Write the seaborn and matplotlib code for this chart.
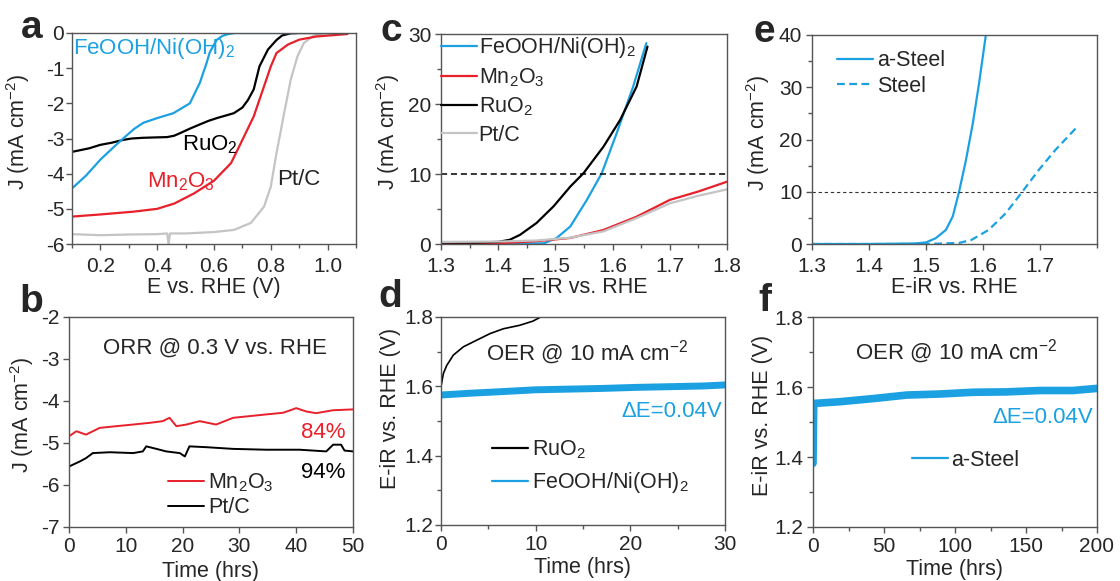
import numpy as np
import pandas as pd
import matplotlib
matplotlib.use("Agg")
import matplotlib.pyplot as plt
from matplotlib.ticker import MultipleLocator
import seaborn as sns

# ---------------- data ----------------
# panel a (ORR LSV)
a_fe_x = [0.10, 0.15, 0.20, 0.25, 0.28, 0.32, 0.352, 0.40, 0.457, 0.515, 0.55, 0.574, 0.585, 0.609, 0.63, 0.65, 0.675, 0.70, 0.80, 0.90, 1.00, 1.07]
a_fe_y = [-4.42, -4.05, -3.60, -3.22, -3.00, -2.72, -2.55, -2.42, -2.28, -2.00, -1.42, -0.85, -0.55, -0.20, -0.08, -0.03, 0.0, 0.0, 0.0, 0.0, 0.0, 0.0]
a_ru_x = [0.10, 0.13, 0.16, 0.20, 0.24, 0.28, 0.31, 0.35, 0.39, 0.435, 0.46, 0.48, 0.515, 0.55, 0.58, 0.61, 0.64, 0.67, 0.70, 0.72, 0.74, 0.76, 0.79, 0.82, 0.84, 0.87, 0.90, 1.00, 1.07]
a_ru_y = [-3.38, -3.33, -3.28, -3.18, -3.12, -3.04, -3.00, -2.98, -2.97, -2.96, -2.92, -2.85, -2.72, -2.60, -2.50, -2.42, -2.35, -2.28, -2.12, -1.90, -1.60, -0.95, -0.47, -0.20, -0.07, -0.01, 0.0, 0.0, 0.0]
a_mn_x = [0.10, 0.20, 0.317, 0.40, 0.46, 0.53, 0.60, 0.66, 0.70, 0.74, 0.776, 0.80, 0.82, 0.86, 0.90, 0.96, 1.07]
a_mn_y = [-5.22, -5.16, -5.08, -5.00, -4.85, -4.56, -4.20, -3.70, -3.04, -2.37, -1.52, -0.95, -0.57, -0.33, -0.19, -0.10, -0.03]
a_pt_x = [0.10, 0.20, 0.30, 0.40, 0.435, 0.44, 0.445, 0.50, 0.60, 0.67, 0.73, 0.776, 0.80, 0.82, 0.847, 0.87, 0.894, 0.917, 0.95, 0.988, 1.07]
a_pt_y = [-5.72, -5.75, -5.73, -5.72, -5.70, -6.00, -5.70, -5.70, -5.66, -5.60, -5.40, -4.94, -4.37, -3.42, -2.28, -1.33, -0.66, -0.28, -0.08, 0.0, 0.0]

# panel b (ORR stability)
b_mn_t = [0, 1.3, 3, 5.4, 8.3, 11.3, 14.2, 16.5, 17.7, 18.9, 20.7, 23, 25.9, 28.9, 31.8, 34.7, 37.7, 39.4, 40, 41.8, 43.5, 46.5, 50]
b_mn_j = [-4.84, -4.72, -4.80, -4.64, -4.60, -4.56, -4.52, -4.48, -4.40, -4.60, -4.56, -4.48, -4.56, -4.40, -4.36, -4.32, -4.28, -4.20, -4.17, -4.25, -4.29, -4.22, -4.20]
b_pt_t = [0, 1.9, 3, 4.2, 7.2, 11.3, 13, 13.6, 15.4, 17.1, 19.5, 20.4, 21.2, 24.2, 28.9, 34.7, 40.6, 45.3, 46.5, 47.9, 48.5, 50]
b_pt_j = [-5.56, -5.44, -5.36, -5.24, -5.22, -5.24, -5.20, -5.08, -5.14, -5.20, -5.24, -5.32, -5.08, -5.10, -5.14, -5.16, -5.16, -5.20, -5.04, -5.04, -5.18, -5.20]

# panel c (OER LSV)
c_ru_x = [1.30, 1.36, 1.40, 1.42, 1.438, 1.467, 1.497, 1.526, 1.549, 1.584, 1.613, 1.642, 1.661]
c_ru_y = [0.2, 0.2, 0.3, 0.6, 1.3, 3.0, 5.4, 8.2, 10.1, 13.9, 17.7, 22.5, 28.2]
c_fe_x = [1.30, 1.40, 1.48, 1.502, 1.526, 1.555, 1.581, 1.607, 1.636, 1.659]
c_fe_y = [0.0, 0.0, 0.1, 0.85, 2.5, 6.3, 10.1, 15.8, 22.5, 28.7]
c_mn_x = [1.30, 1.40, 1.467, 1.526, 1.584, 1.642, 1.70, 1.75, 1.80]
c_mn_y = [0.0, 0.1, 0.4, 0.86, 2.0, 3.9, 6.3, 7.5, 8.9]
c_pt_x = [1.30, 1.40, 1.467, 1.526, 1.584, 1.642, 1.70, 1.75, 1.80]
c_pt_y = [0.3, 0.35, 0.5, 0.9, 1.8, 3.7, 5.8, 6.9, 7.8]

# panel d (OER stability)
d_ru_t = [0.0, 0.25, 0.6, 1.3, 2.36, 3.76, 5.17, 6.58, 8.3, 9.7, 10.4]
d_ru_e = [1.599, 1.637, 1.660, 1.690, 1.714, 1.733, 1.752, 1.766, 1.776, 1.788, 1.798]
d_fe_t = [0, 3, 6.6, 10, 13.6, 17.1, 20.6, 24.2, 27.7, 30]
d_fe_e = [1.575, 1.580, 1.585, 1.590, 1.592, 1.594, 1.597, 1.599, 1.601, 1.604]

# panel e (steel LSV)
e_as_x = [1.30, 1.40, 1.48, 1.50, 1.517, 1.535, 1.547, 1.558, 1.570, 1.582, 1.593, 1.605]
e_as_y = [0.0, 0.0, 0.1, 0.3, 1.1, 2.7, 5.3, 10.0, 16.0, 23.0, 30.7, 40.0]
e_st_x = [1.30, 1.40, 1.50, 1.558, 1.58, 1.61, 1.64, 1.669, 1.698, 1.727, 1.765]
e_st_y = [0.0, 0.0, 0.0, 0.2, 0.8, 2.7, 5.9, 10.0, 14.2, 18.0, 22.4]

# panel f (steel stability)
f_t = [0, 0.5, 19, 42.6, 66, 89.5, 113, 136, 160, 183, 200]
f_e = [1.382, 1.553, 1.558, 1.567, 1.577, 1.580, 1.585, 1.586, 1.590, 1.590, 1.596]

# labels
lab_fe = "FeOOH/Ni(OH)$_2$"
lab_mn = "Mn$_2$O$_3$"
lab_ru = "RuO$_2$"
lab_pt = "Pt/C"

# ---------------- style ----------------
sns.set_theme(style="ticks")
plt.rcParams["font.family"] = ["Liberation Sans", "DejaVu Sans"]
plt.rcParams["mathtext.fontset"] = "custom"
plt.rcParams["mathtext.rm"] = "Liberation Sans"
plt.rcParams["mathtext.it"] = "Liberation Sans:italic"
plt.rcParams["mathtext.default"] = "regular"

BLUE = "#1BA1E2"
RED = "#E8202A"
BLACK = "#000000"
GRAY = "#C4C4C4"
SPINE = "#555555"
FS_TICK = 15
FS_LAB = 15.5
FS_TXT = 16

fig = plt.figure(figsize=(11.2, 5.81), dpi=100)
W, H = 1120, 581

def make_ax(l, r, t, b):
    return fig.add_axes([l / W, 1 - b / H, (r - l) / W, (b - t) / H])

ax_a = make_ax(72, 356, 33, 244)
ax_c = make_ax(441, 727, 34, 244)
ax_e = make_ax(812, 1097, 35, 244)
ax_b = make_ax(69, 353, 317, 527)
ax_d = make_ax(441, 725, 317, 525)
ax_f = make_ax(813, 1097, 317, 527)

def style(ax, ypad=3, xl=(-0.15), yl=(-0.14, 0.53), xpad=4.0):
    for s in ax.spines.values():
        s.set_color(SPINE)
        s.set_linewidth(1.0)
    ax.tick_params(which="major", direction="out", length=4, width=1, color=SPINE,
                   labelsize=FS_TICK)
    ax.tick_params(which="minor", direction="out", length=3, width=1, color=SPINE)
    ax.tick_params(axis="x", which="major", pad=xpad)
    ax.tick_params(axis="y", which="major", pad=ypad)
    ax.xaxis.set_label_coords(0.5, xl)
    ax.yaxis.set_label_coords(yl[0], yl[1])

def line(ax, x, y, color, lw=1.6, label=None, ls="-"):
    df = pd.DataFrame({"x": x, "y": y})
    sns.lineplot(data=df, x="x", y="y", ax=ax, color=color, lw=lw, label=label,
                 sort=False, estimator=None, linestyle=ls)

leg_kw = dict(frameon=False, fontsize=FS_LAB, handlelength=1.65, borderpad=0, borderaxespad=0)

# ---- a ----
ax = ax_a
line(ax, a_pt_x, a_pt_y, GRAY)
line(ax, a_mn_x, a_mn_y, RED)
line(ax, a_ru_x, a_ru_y, BLACK)
line(ax, a_fe_x, a_fe_y, BLUE)
ax.set_xlim(0.1, 1.1)
ax.set_ylim(-6, 0)
ax.set_xticks([0.2, 0.4, 0.6, 0.8, 1.0])
ax.xaxis.set_minor_locator(MultipleLocator(0.1))
ax.set_yticks([0, -1, -2, -3, -4, -5, -6])
ax.set_yticklabels(["0", "-1", "-2", "-3", "-4", "-5", "-6"])
ax.set_xlabel("E vs. RHE (V)", fontsize=FS_LAB)
ax.set_ylabel("J (mA cm$^{-2}$)", fontsize=FS_LAB)
ax.text(0.104, -0.43, lab_fe, color=BLUE, fontsize=FS_TXT, va="center", ha="left")
ax.text(0.486, -3.18, lab_ru, color=BLACK, fontsize=FS_TXT, va="center", ha="left")
ax.text(0.363, -4.24, lab_mn, color=RED, fontsize=FS_TXT, va="center", ha="left")
ax.text(0.823, -4.18, lab_pt, color="#222222", fontsize=FS_TXT, va="center", ha="left")
style(ax, ypad=1.5, xl=-0.155, yl=(-0.14, 0.53), xpad=5)

# ---- b ----
ax = ax_b
line(ax, b_mn_t, b_mn_j, RED, lw=1.4, label=lab_mn)
line(ax, b_pt_t, b_pt_j, BLACK, lw=1.4, label=lab_pt)
ax.set_xlim(0, 50)
ax.set_ylim(-7, -2)
ax.set_xticks([0, 10, 20, 30, 40, 50])
ax.set_yticks([-2, -3, -4, -5, -6, -7])
ax.set_yticklabels(["-2", "-3", "-4", "-5", "-6", "-7"])
ax.set_xlabel("Time (hrs)", fontsize=FS_LAB)
ax.set_ylabel("J (mA cm$^{-2}$)", fontsize=FS_LAB)
ax.text(25.7, -2.75, "ORR @ 0.3 V vs. RHE", fontsize=FS_TXT, ha="center", va="center")
ax.text(48.6, -4.75, "84%", color=RED, fontsize=FS_TXT, ha="right", va="center")
ax.text(48.6, -5.7, "94%", color=BLACK, fontsize=FS_TXT, ha="right", va="center")
ax.legend(loc="center left", bbox_to_anchor=(0.349, 0.152), handletextpad=0.2,
          labelspacing=0.15, **leg_kw)
style(ax, ypad=3, xl=-0.16, yl=(-0.115, 0.533), xpad=3)

# ---- c ----
ax = ax_c
line(ax, c_fe_x, c_fe_y, BLUE, label=lab_fe)
line(ax, c_mn_x, c_mn_y, RED, label=lab_mn)
line(ax, c_ru_x, c_ru_y, BLACK, label=lab_ru)
line(ax, c_pt_x, c_pt_y, GRAY, label=lab_pt)
ax.axhline(10, color=BLACK, lw=1.1, ls=(0, (4, 2.5)))
ax.set_xlim(1.3, 1.8)
ax.set_ylim(0, 30)
ax.set_xticks([1.3, 1.4, 1.5, 1.6, 1.7, 1.8])
ax.xaxis.set_minor_locator(MultipleLocator(0.05))
ax.set_yticks([0, 10, 20, 30])
ax.yaxis.set_minor_locator(MultipleLocator(5))
ax.set_xlabel("E-iR vs. RHE", fontsize=FS_LAB)
ax.set_ylabel("J (mA cm$^{-2}$)", fontsize=FS_LAB)
ax.legend(loc="center left", bbox_to_anchor=(0.0, 0.731), handletextpad=0.1,
          labelspacing=0.3, **leg_kw)
style(ax, ypad=3, xl=-0.158, yl=(-0.135, 0.533), xpad=5)

# ---- d ----
ax = ax_d
line(ax, d_ru_t, d_ru_e, BLACK, lw=1.2, label=lab_ru)
line(ax, d_fe_t, d_fe_e, BLUE, lw=5, label=lab_fe)
ax.set_xlim(0, 30)
ax.set_ylim(1.2, 1.8)
ax.set_xticks([0, 10, 20, 30])
ax.xaxis.set_minor_locator(MultipleLocator(5))
ax.set_yticks([1.2, 1.4, 1.6, 1.8])
ax.yaxis.set_minor_locator(MultipleLocator(0.1))
ax.set_xlabel("Time (hrs)", fontsize=FS_LAB)
ax.set_ylabel("E-iR vs. RHE (V)", fontsize=FS_LAB)
ax.text(15.4, 1.696, "OER @ 10 mA cm$^{-2}$", fontsize=FS_TXT, ha="center", va="center")
ax.text(29.7, 1.526, "\u0394E=0.04V", color=BLUE, fontsize=FS_TXT, ha="right", va="center")
leg = ax.legend(loc="center left", bbox_to_anchor=(0.18, 0.279), handletextpad=0.2,
                labelspacing=0.4, **leg_kw)
for h in leg.get_lines():
    h.set_linewidth(1.6)
style(ax, ypad=1.5, xl=-0.152, yl=(-0.14, 0.56), xpad=3)

# ---- e ----
ax = ax_e
line(ax, e_as_x, e_as_y, BLUE, label="a-Steel")
line(ax, e_st_x, e_st_y, BLUE, label="Steel", ls=(0, (3.5, 2)))
ax.axhline(10, color="#333333", lw=0.8, ls=(0, (3, 2.5)))
ax.set_xlim(1.3, 1.8)
ax.set_ylim(0, 40)
ax.set_xticks([1.3, 1.4, 1.5, 1.6, 1.7])
ax.xaxis.set_minor_locator(MultipleLocator(0.1))
ax.set_yticks([0, 10, 20, 30, 40])
ax.yaxis.set_minor_locator(MultipleLocator(5))
ax.set_xlabel("E-iR vs. RHE", fontsize=FS_LAB)
ax.set_ylabel("J (mA cm$^{-2}$)", fontsize=FS_LAB)
ax.legend(loc="center left", bbox_to_anchor=(0.088, 0.816), handletextpad=0.2,
          labelspacing=0.2, **leg_kw)
style(ax, ypad=3, xl=-0.16, yl=(-0.14, 0.53), xpad=5)

# ---- f ----
ax = ax_f
line(ax, f_t, f_e, BLUE, lw=5.5, label="a-Steel")
ax.set_xlim(0, 200)
ax.set_ylim(1.2, 1.8)
ax.set_xticks([0, 50, 100, 150, 200])
ax.xaxis.set_minor_locator(MultipleLocator(25))
ax.set_yticks([1.2, 1.4, 1.6, 1.8])
ax.yaxis.set_minor_locator(MultipleLocator(0.1))
ax.set_xlabel("Time (hrs)", fontsize=FS_LAB)
ax.set_ylabel("E-iR vs. RHE (V)", fontsize=FS_LAB)
ax.text(101, 1.70, "OER @ 10 mA cm$^{-2}$", fontsize=FS_TXT, ha="center", va="center")
ax.text(197, 1.514, "\u0394E=0.04V", color=BLUE, fontsize=FS_TXT, ha="right", va="center")
leg = ax.legend(loc="center left", bbox_to_anchor=(0.349, 0.319), handletextpad=0.15, **leg_kw)
for h in leg.get_lines():
    h.set_linewidth(1.6)
style(ax, ypad=3, xl=-0.152, yl=(-0.14, 0.533), xpad=3)

# panel letters
for letter, px, py in [("a", 21, 28), ("b", 19, 302), ("c", 381, 31), ("d", 378, 297),
                       ("e", 753, 32), ("f", 758, 301)]:
    fig.text(px / W, 1 - py / H, letter, fontsize=28, fontweight="bold", ha="left", va="center")

fig.savefig("out.png", dpi=100)
